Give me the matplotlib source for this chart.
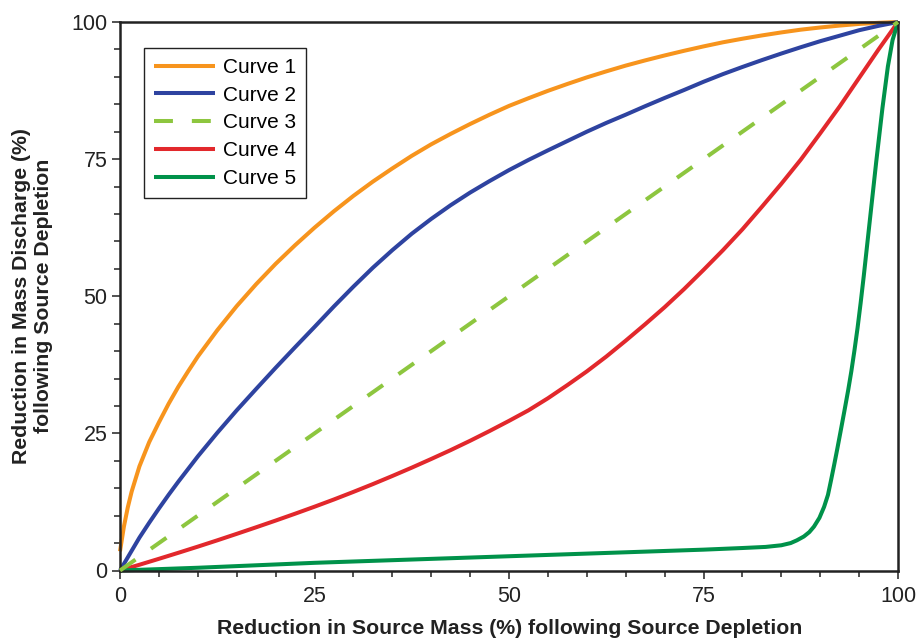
import numpy as np
import matplotlib as mpl
import matplotlib.pyplot as plt
from matplotlib.ticker import MultipleLocator

# Source mass reduction (%) and resulting mass discharge reduction (%)
curve1_x = [0, 0.5, 1, 1.5, 2.5, 3.75, 5, 6.25, 7.5, 8.75, 10, 12.5, 15, 17.5,
            20, 22.5, 25, 27.5, 30, 32.5, 35, 37.5, 40, 42.5, 45, 47.5, 50,
            52.5, 55, 57.5, 60, 62.5, 65, 67.5, 70, 72.5, 75, 77.5, 80, 82.5,
            85, 87.5, 90, 92.5, 95, 97.5, 100]
curve1_y = [3.5, 8, 11.5, 14.4, 19, 23.4, 27.0, 30.4, 33.5, 36.3, 39, 43.8,
            48.2, 52.2, 55.9, 59.3, 62.5, 65.5, 68.3, 70.9, 73.3, 75.6, 77.7,
            79.6, 81.4, 83.1, 84.7, 86.1, 87.45, 88.7, 89.9, 91.0, 92.05, 93.0,
            93.9, 94.75, 95.55, 96.3, 96.95, 97.55, 98.1, 98.6, 99.0, 99.35,
            99.65, 99.85, 100]

curve2_x = [0, 1.25, 2.5, 3.75, 5, 6.25, 7.5, 8.75, 10, 12.5, 15, 17.5, 20,
            22.5, 25, 27.5, 30, 32.5, 35, 37.5, 40, 42.5, 45, 47.5, 50, 52.5,
            55, 57.5, 60, 62.5, 65, 67.5, 70, 72.5, 75, 77.5, 80, 82.5, 85,
            87.5, 90, 92.5, 95, 97.5, 100]
curve2_y = [0, 3, 6, 8.7, 11.3, 13.8, 16.2, 18.5, 20.8, 25.1, 29.2, 33.1, 36.95,
            40.7, 44.4, 48.15, 51.75, 55.2, 58.4, 61.4, 64.1, 66.6, 68.9, 71.0,
            73.0, 74.85, 76.6, 78.3, 80.0, 81.6, 83.1, 84.65, 86.15, 87.6, 89.1,
            90.5, 91.8, 93.05, 94.25, 95.4, 96.5, 97.5, 98.5, 99.3, 100]

curve3_x = [0, 100]
curve3_y = [0, 100]

curve4_x = [0, 2.5, 5, 7.5, 10, 12.5, 15, 17.5, 20, 22.5, 25, 27.5, 30, 32.5,
            35, 37.5, 40, 42.5, 45, 47.5, 50, 52.5, 55, 57.5, 60, 62.5, 65,
            67.5, 70, 72.5, 75, 77.5, 80, 82.5, 85, 87.5, 90, 92.5, 95, 97.5,
            100]
curve4_y = [0, 1.05, 2.13, 3.23, 4.35, 5.5, 6.68, 7.88, 9.1, 10.35, 11.63,
            12.95, 14.33, 15.75, 17.23, 18.75, 20.33, 21.95, 23.65, 25.43,
            27.28, 29.2, 31.4, 33.8, 36.3, 39.0, 41.9, 44.9, 48.0, 51.3, 54.8,
            58.4, 62.2, 66.3, 70.5, 74.9, 79.7, 84.6, 89.8, 95.0, 100]

curve5_x = [0, 10, 25, 50, 75, 80, 83, 85, 86.2, 87, 87.9, 88.6, 89.2, 89.9,
            90.5, 91, 91.4, 91.8, 92.2, 92.6, 93.1, 93.6, 94, 94.4, 94.8, 95.2,
            95.6, 96.5, 97.2, 98, 98.7, 99.3, 100]
curve5_y = [0, 0.5, 1.4, 2.6, 3.8, 4.1, 4.3, 4.6, 5.0, 5.5, 6.2, 7.0, 8.0, 9.6,
            11.6, 13.8, 16.5, 19.3, 22.2, 25.2, 29.0, 32.9, 36.3, 40.1, 44.2,
            48.8, 53.7, 65.4, 74.5, 84.3, 91.9, 96.7, 100]

labels = ['Curve 1', 'Curve 2', 'Curve 3', 'Curve 4', 'Curve 5']
colors = ['#F7941D', '#2E43A0', '#8DC63F', '#E2282C', '#00924A']

plt.rcParams['font.family'] = ['Liberation Sans', 'DejaVu Sans']

W, H = 919, 640
fig = plt.figure(figsize=(W / 100, H / 100), dpi=100)
ax = fig.add_axes([120 / W, 1 - 570.5 / H, 778 / W, 548.5 / H])

lw = 2.9
series = [(curve1_x, curve1_y), (curve2_x, curve2_y), (curve3_x, curve3_y),
          (curve4_x, curve4_y), (curve5_x, curve5_y)]
for i, ((xs, ys), lab, col) in enumerate(zip(series, labels, colors)):
    if i == 2:
        continue
    ax.plot(xs, ys, color=col, linewidth=lw, label=lab, clip_on=False,
            solid_capstyle='butt', solid_joinstyle='round', zorder=2)
# dashed 1:1 line drawn on top
ax.plot(curve3_x, curve3_y, color=colors[2], linewidth=lw, label=labels[2],
        dashes=(4.7, 4.7), clip_on=False, zorder=3)

ax.set_xlim(0, 100)
ax.set_ylim(0, 100)
ax.xaxis.set_major_locator(MultipleLocator(25))
ax.yaxis.set_major_locator(MultipleLocator(25))
ax.xaxis.set_minor_locator(MultipleLocator(5))
ax.yaxis.set_minor_locator(MultipleLocator(5))
ax.tick_params(which='major', direction='out', length=6, width=1.1,
               labelsize=15.5, pad=3, color='#222222', labelcolor='#222222')
ax.tick_params(which='minor', direction='out', length=4.5, width=1.1,
               color='#222222')
ax.tick_params(axis='x', which='major', pad=5)
for sp in ax.spines.values():
    sp.set_linewidth(1.8)
    sp.set_color('#222222')

# legend order: 1, 2, 3, 4, 5
handles, labs = ax.get_legend_handles_labels()
order = [labs.index(l) for l in labels]
leg = ax.legend([handles[k] for k in order], [labs[k] for k in order],
                loc='upper left', bbox_to_anchor=(143.5 / W, 1 - 47.5 / H),
                bbox_transform=fig.transFigure, fontsize=15, frameon=True,
                fancybox=False, framealpha=1, edgecolor='#222222',
                handlelength=2.95, handletextpad=0.35, labelspacing=0.42,
                borderpad=0.5, borderaxespad=0)
leg.get_frame().set_linewidth(1.0)

fig.text(510 / W, 1 - 628 / H,
         'Reduction in Source Mass (%) following Source Depletion',
         ha='center', va='center', fontsize=15.3, fontweight='bold',
         color='#222222')
fig.text(32.5 / W, 1 - 296 / H,
         'Reduction in Mass Discharge (%)\nfollowing Source Depletion',
         ha='center', va='center', rotation=90, multialignment='center',
         fontsize=15.3, fontweight='bold', color='#222222', linespacing=1.15)

fig.savefig('out.png', dpi=100)
